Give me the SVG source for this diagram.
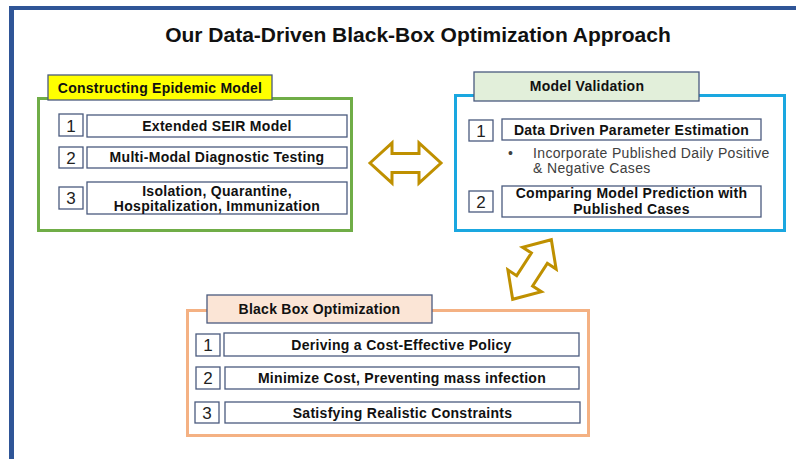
<svg xmlns="http://www.w3.org/2000/svg" width="796" height="459" viewBox="0 0 796 459">
  <style>
    text { font-family: "Liberation Sans", Arial, sans-serif; fill: #111; }
    .title { font-size: 21px; font-weight: bold; text-anchor: middle; }
    .hdr { font-size: 14px; font-weight: bold; text-anchor: middle; letter-spacing: 0.25px; }
    .item { font-size: 14px; font-weight: bold; text-anchor: middle; letter-spacing: 0.3px; }
    .num { font-size: 17px; text-anchor: middle; fill: #222; }
    .note { font-size: 14px; fill: #404040; letter-spacing: 0.35px; }
    .cell { fill: #fff; stroke: #4a5a7e; stroke-width: 1.3; }
    .tag { stroke: #4a5a7e; stroke-width: 1.3; }
    .swap { fill: #fff; stroke: #bf9000; stroke-width: 3; stroke-linejoin: miter; }
  </style>
  <defs>
    <!-- double-headed block arrow centred on the origin -->
    <path id="dbl" d="M -35.5,0 L -13.5,-20 L -13.5,-9.5 L 13.5,-9.5 L 13.5,-20 L 35.5,0 L 13.5,20 L 13.5,9.5 L -13.5,9.5 L -13.5,20 Z"/>
  </defs>

  <rect width="796" height="459" fill="#fff"/>

  <!-- page frame: left and top bars -->
  <rect x="9" y="6" width="787" height="4" fill="#2f5597"/>
  <rect x="9" y="6" width="5" height="453" fill="#2f5597"/>

  <text class="title" x="418" y="42">Our Data-Driven Black-Box Optimization Approach</text>

  <!-- Constructing Epidemic Model -->
  <g id="epidemic-model">
    <rect x="38.5" y="98.5" width="313" height="132" fill="#fff" stroke="#70ad47" stroke-width="3"/>
    <rect class="tag" x="48" y="75" width="224" height="25" fill="#ffff00"/>
    <text class="hdr" x="160" y="93">Constructing Epidemic Model</text>
    <rect class="cell" x="59" y="114" width="24" height="22"/>
    <text class="num" x="71" y="132">1</text>
    <rect class="cell" x="87" y="115" width="260" height="22"/>
    <text class="item" x="217" y="131">Extended SEIR Model</text>
    <rect class="cell" x="59" y="147" width="24" height="21"/>
    <text class="num" x="71" y="164">2</text>
    <rect class="cell" x="87" y="147" width="260" height="21"/>
    <text class="item" x="217" y="162">Multi-Modal Diagnostic Testing</text>
    <rect class="cell" x="59" y="187" width="24" height="22"/>
    <text class="num" x="71" y="204">3</text>
    <rect class="cell" x="87" y="182" width="260" height="32"/>
    <text class="item" x="217" y="196">Isolation, Quarantine,</text>
    <text class="item" x="217" y="211">Hospitalization, Immunization</text>
  </g>

  <!-- Model Validation -->
  <g id="model-validation">
    <rect x="455.5" y="95.5" width="329" height="135" fill="#fff" stroke="#1aa7e0" stroke-width="3"/>
    <rect class="tag" x="474" y="72" width="225" height="29" fill="#e2efda"/>
    <text class="hdr" x="587" y="91">Model Validation</text>
    <rect class="cell" x="469" y="120" width="24" height="21"/>
    <text class="num" x="481" y="137">1</text>
    <rect class="cell" x="502" y="119" width="259" height="21"/>
    <text class="item" x="631.5" y="135">Data Driven Parameter Estimation</text>
    <text class="note" x="508" y="158">•</text>
    <text class="note" x="533" y="158">Incorporate Published Daily Positive</text>
    <text class="note" x="533" y="173">&amp; Negative Cases</text>
    <rect class="cell" x="469" y="191" width="24" height="21"/>
    <text class="num" x="481" y="208">2</text>
    <rect class="cell" x="502" y="186" width="259" height="31"/>
    <text class="item" x="631.5" y="198">Comparing Model Prediction with</text>
    <text class="item" x="631.5" y="214">Published Cases</text>
  </g>

  <!-- Black Box Optimization -->
  <g id="black-box-optimization">
    <rect x="187.5" y="310.5" width="401" height="125" fill="#fff" stroke="#f4b183" stroke-width="3"/>
    <rect class="tag" x="207" y="295" width="225" height="28" fill="#fbe5d6"/>
    <text class="hdr" x="319.5" y="314">Black Box Optimization</text>
    <rect class="cell" x="196" y="334" width="24" height="22"/>
    <text class="num" x="208" y="351">1</text>
    <rect class="cell" x="224" y="333" width="355" height="23"/>
    <text class="item" x="401.5" y="350">Deriving a Cost-Effective Policy</text>
    <rect class="cell" x="196" y="367" width="24" height="22"/>
    <text class="num" x="208" y="384">2</text>
    <rect class="cell" x="225" y="367" width="354" height="22"/>
    <text class="item" x="402" y="383">Minimize Cost, Preventing mass infection</text>
    <rect class="cell" x="195" y="402" width="24" height="21"/>
    <text class="num" x="207" y="419">3</text>
    <rect class="cell" x="225" y="402" width="355" height="21"/>
    <text class="item" x="402.5" y="418">Satisfying Realistic Constraints</text>
  </g>

  <!-- connectors -->
  <g id="connectors">
    <use href="#dbl" class="swap" transform="translate(405.5,163)"/>
    <use href="#dbl" class="swap" transform="translate(532,269.5) rotate(-57)"/>
  </g>
</svg>
